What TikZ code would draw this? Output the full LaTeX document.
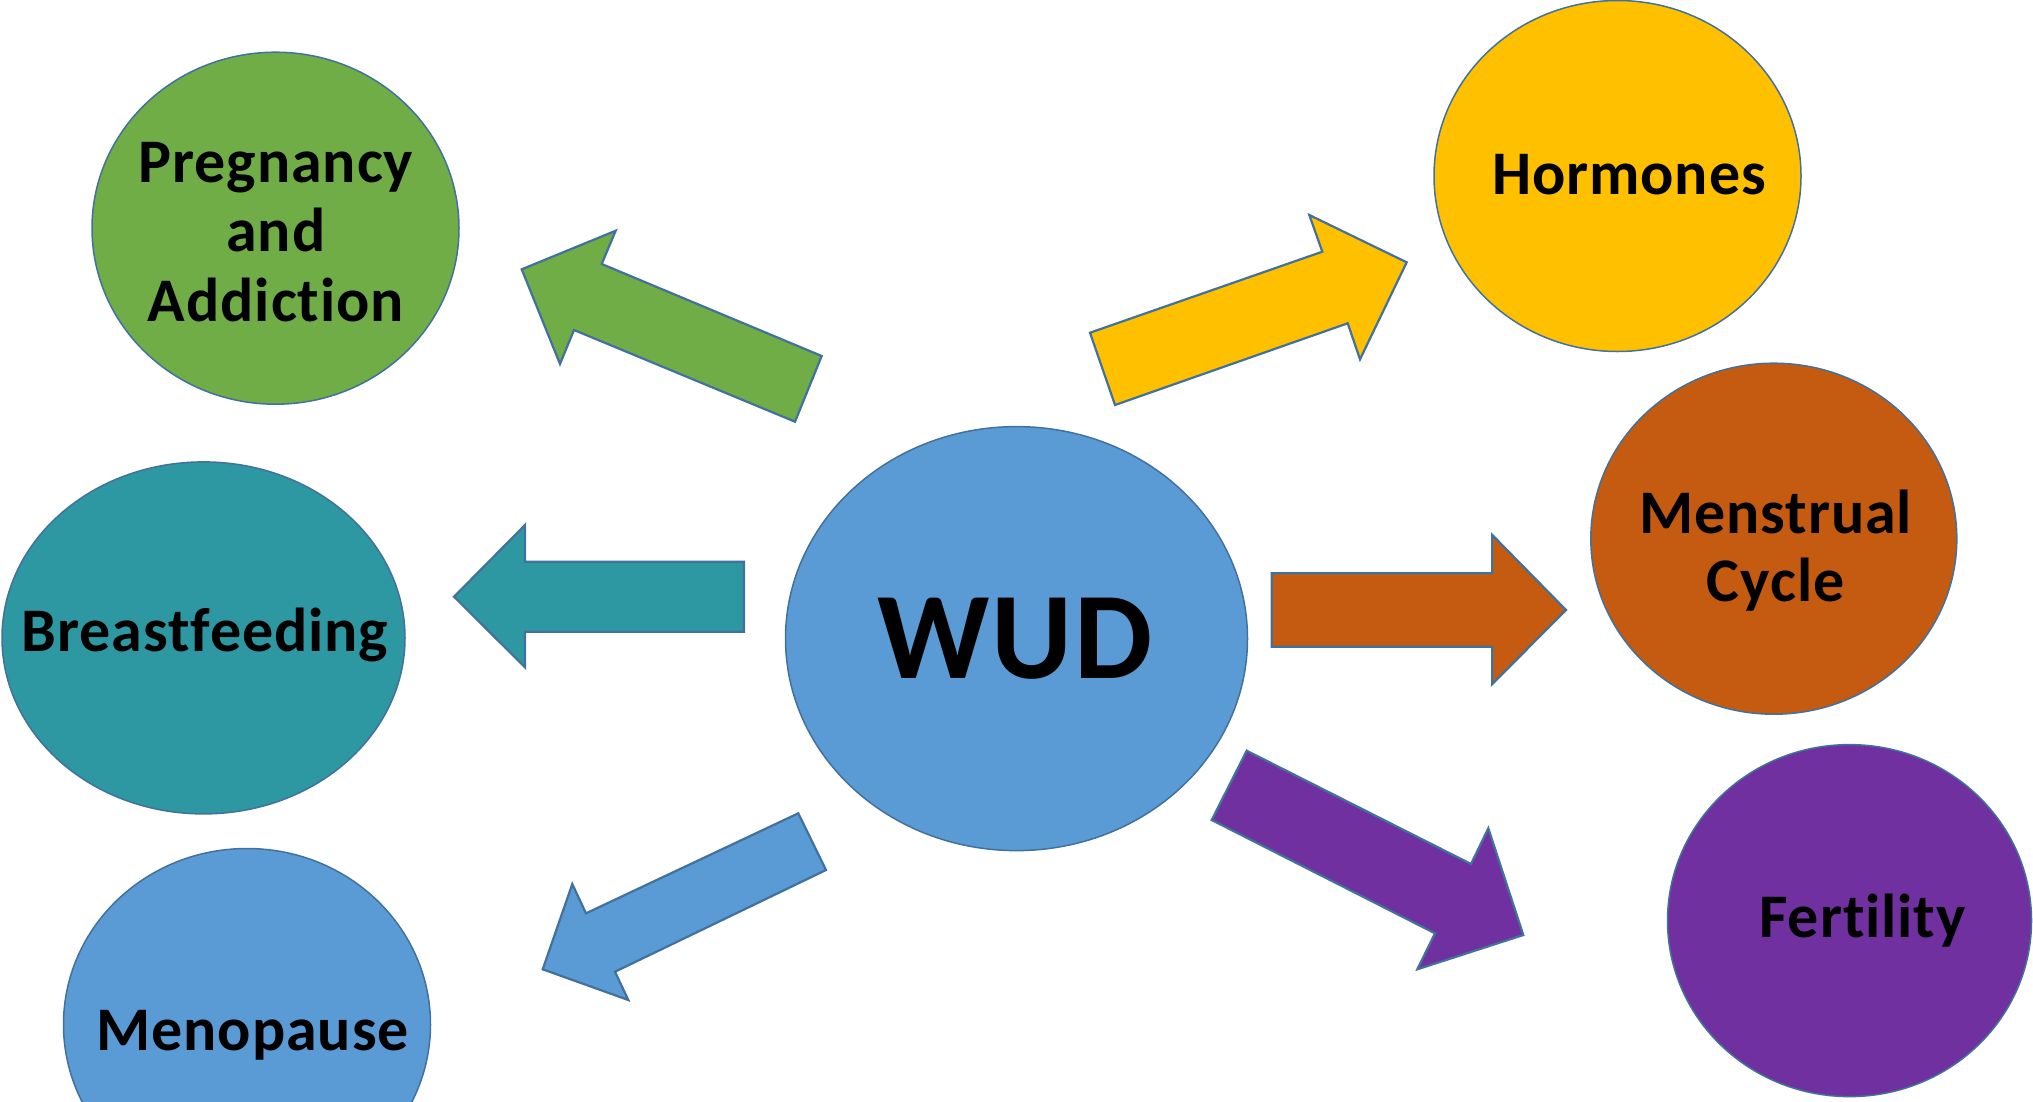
\documentclass[tikz,border=0pt]{standalone}
\usepackage{fontspec}
\setmainfont{Carlito}[Ligatures={NoCommon}, LetterSpace=1.5]
\usetikzlibrary{shapes.geometric}
\definecolor{edgeblue}{HTML}{41719C}
\definecolor{cgreen}{HTML}{70AD47}
\definecolor{cyellow}{HTML}{FFC000}
\definecolor{corange}{HTML}{C55A11}
\definecolor{cblue}{HTML}{5B9BD5}
\definecolor{cpurple}{HTML}{7030A0}
\definecolor{cteal}{HTML}{2D97A2}
\tikzset{
  bubble/.style={ellipse, draw=edgeblue, line width=1.5pt, inner sep=0pt},
  blockarrow/.style={draw=edgeblue, line width=2.2pt, line join=miter},
  lbl/.style={anchor=base, inner sep=0pt, font=\bfseries\fontsize{62}{69}\selectfont, text=black},
  biglbl/.style={anchor=base, inner sep=0pt, font=\bfseries\fontsize{124}{130}\selectfont, text=black}
}
\begin{document}
\begin{tikzpicture}[x=1pt, y=-1pt]
\useasboundingbox (0,0) rectangle (2033,1101);
% ellipses
\node[bubble, fill=cblue, minimum width=462pt, minimum height=424pt] (wud) at (1016.5,638.6) {};
\node[bubble, fill=cgreen, minimum width=367pt, minimum height=352pt] (preg) at (275.5,228.2) {};
\node[bubble, fill=cyellow, minimum width=367pt, minimum height=351pt] (horm) at (1617.5,176) {};
\node[bubble, fill=corange, minimum width=366pt, minimum height=351pt] (mens) at (1773.8,538.7) {};
\node[bubble, fill=cteal, minimum width=403pt, minimum height=352pt] (breast) at (203.5,637.9) {};
\node[bubble, fill=cpurple, minimum width=364pt, minimum height=352pt] (fert) at (1849.5,920.6) {};
\node[bubble, fill=cblue, minimum width=367pt, minimum height=352pt] (meno) at (247,1024.5) {};
% arrows
\draw[blockarrow, fill=cgreen] (821.7,356) -- (795,421.7) -- (574,330) -- (560,364) -- (521.7,269.3) -- (615.7,230.7) -- (601.7,264) -- cycle;
\draw[blockarrow, fill=cyellow] (1090,332.7) -- (1115,405) -- (1347.7,323.3) -- (1360,359.3) -- (1406.7,262.3) -- (1309.3,215) -- (1322.3,251.7) -- cycle;
\draw[blockarrow, fill=cteal] (744,561.7) -- (744,631.7) -- (525,631.7) -- (525,667.3) -- (454,596.7) -- (525,525) -- (525,561.7) -- cycle;
\draw[blockarrow, fill=corange] (1271.7,573.3) -- (1271.7,646.7) -- (1492.3,646.7) -- (1492.3,684) -- (1566,610) -- (1492.3,535) -- (1492.3,573.3) -- cycle;
\draw[blockarrow, fill=cpurple] (1246.7,750.7) -- (1211.7,820) -- (1435,933.3) -- (1417.3,969.3) -- (1523.3,935) -- (1488.3,828.3) -- (1471,864) -- cycle;
\draw[blockarrow, fill=cblue] (798.3,813.3) -- (826,870) -- (615,971.7) -- (628.3,1000) -- (542.7,969.3) -- (572.3,884) -- (586,913.3) -- cycle;
% labels
\node[biglbl] (twud) at (1015,678) {WUD};
\node[lbl] (tpreg1) at (276,182.8) {Pregnancy};
\node[lbl] (tpreg2) at (276,251.5) {and};
\node[lbl] (tpreg3) at (276,321.6) {Addiction};
\node[lbl] (thorm) at (1629,194.5) {Hormones};
\node[lbl] (tmens1) at (1775.7,533) {Menstrual};
\node[lbl] (tmens2) at (1775.7,601.6) {Cycle};
\node[lbl] (tbreast) at (205,651) {Breastfeeding};
\node[lbl] (tfert) at (1862.6,937.4) {Fertility};
\node[lbl] (tmeno) at (252.8,1050) {Menopause};
\end{tikzpicture}
\end{document}
